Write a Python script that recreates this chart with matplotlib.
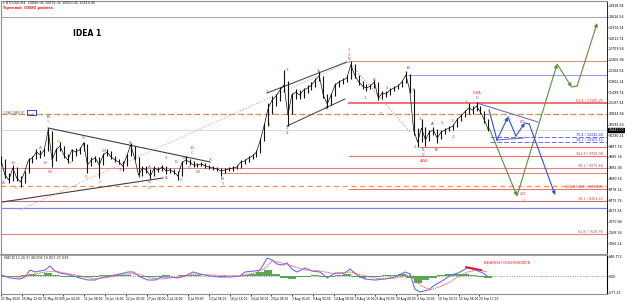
import matplotlib
matplotlib.use("Agg")
import matplotlib.pyplot as plt
from matplotlib.patches import Rectangle

# daily bars (days since 21 May 2020), BTCUSD H4 chart read by eye
days = list(range(125))
close = [9601, 9181, 9041, 9377, 9097, 8985, 9265, 9601, 9657, 9825,
         9741, 9881, 10441, 9601, 9881, 9993, 9741, 9601, 9881, 9825,
         9881, 10077, 9461, 9601, 9657, 9461, 9741, 9825, 9685, 9601,
         9545, 9433, 9713, 10021, 9657, 9181, 9377, 9321, 9153, 9377,
         9321, 9405, 9293, 9321, 9265, 9153, 9517, 9601, 9545, 9461,
         9461, 9489, 9433, 9405, 9377, 9349, 9293, 9321, 9349, 9377,
         9405, 9545, 9573, 9657, 9713, 9825, 10161, 10581, 11057, 11281,
         11393, 11561, 11701, 10861, 11421, 11505, 11421, 11561, 11617, 11701,
         11841, 11953, 11421, 11169, 11421, 11701, 11785, 11841, 11897, 12261,
         11981, 11785, 11673, 11617, 11673, 11785, 11337, 11477, 11449, 11561,
         11617, 11673, 11785, 11981, 11561, 10441, 10105, 10497, 10161, 10385,
         10441, 10217, 10385, 10441, 10497, 10553, 10721, 10833, 10945, 11057,
         11001, 11113, 10945, 10721, 10441]
high = [9700, 9620, 9250, 9450, 9400, 9150, 9300, 9650, 9720, 9900,
        9880, 9950, 10500, 10420, 9950, 10100, 10000, 9780, 9920, 9950,
        9960, 10100, 10050, 9680, 9720, 9680, 9800, 9900, 9850, 9720,
        9640, 9580, 9760, 10080, 10000, 9680, 9420, 9420, 9350, 9420,
        9400, 9460, 9420, 9380, 9350, 9300, 9560, 9700, 9640, 9560,
        9520, 9540, 9510, 9460, 9440, 9410, 9370, 9380, 9400, 9430,
        9460, 9600, 9640, 9700, 9780, 9880, 10220, 10650, 11200, 11400,
        11450, 11650, 12121, 11800, 11480, 11580, 11560, 11620, 11700, 11780,
        11900, 12093, 11950, 11450, 11480, 11760, 11850, 11900, 11980, 12373,
        12280, 11990, 11800, 11720, 11740, 11841, 11790, 11540, 11530, 11620,
        11680, 11740, 11850, 12093, 12000, 11580, 10500, 10749, 10520, 10450,
        10520, 10460, 10440, 10500, 10560, 10620, 10780, 10900, 11000, 11197,
        11100, 11225, 11120, 10960, 10740]
low = [9450, 9100, 8950, 9000, 9020, 8850, 8950, 9250, 9520, 9620,
       9650, 9700, 9850, 9400, 9580, 9850, 9650, 9520, 9580, 9720,
       9780, 9850, 9250, 9420, 9550, 9100, 9450, 9700, 9620, 9550,
       9480, 9280, 9420, 9700, 9600, 9120, 9150, 9250, 9060, 9140,
       9260, 9280, 9220, 9250, 9200, 9050, 9150, 9480, 9470, 9400,
       9400, 9420, 9380, 9340, 9320, 9290, 9150, 9240, 9280, 9300,
       9340, 9390, 9500, 9540, 9620, 9680, 9800, 10120, 10550, 10900,
       11100, 11250, 11500, 10550, 10900, 11300, 11300, 11350, 11480, 11550,
       11650, 11800, 11350, 11057, 11150, 11400, 11650, 11720, 11780, 11880,
       11900, 11700, 11580, 11520, 11580, 11620, 11281, 11300, 11360, 11420,
       11520, 11580, 11650, 11760, 11480, 10300, 9965, 10100, 9980, 10140,
       10300, 10077, 10200, 10340, 10400, 10440, 10520, 10700, 10800, 10900,
       10900, 10980, 10880, 10650, 10400]

# MACD pane
macd_day = [0, 2.3, 4.8, 6.1, 7.4, 8.7, 9.9, 11.2, 12.5, 13.7, 15.0, 16.3, 17.6,
            20.1, 22.1, 23.9, 25.2, 27.7, 30.3, 32.3, 33.6, 35.4, 37.4, 39.2,
            41.0, 43.0, 45.0, 46.8, 48.9, 50.6, 53.2, 55.7, 58.3, 60.8, 62.1,
            64.6, 65.9, 66.7, 67.7, 69.0, 70.2, 71.5, 72.8, 74.0, 75.3, 77.4,
            79.1, 81.2, 83.0, 85.0, 87.5, 88.8, 90.6, 92.6, 95.2, 97.7, 100.3,
            102.8, 104.1, 105.3, 106.6, 108.7, 110.4, 112.2, 114.2, 116.8,
            118.6, 119.8, 121.4, 122.6, 123.7]
macd = [34, -68, -102, -34, 204, 136, 170, 204, 340, 170, 102, 68, 34,
        -68, -136, -136, -68, 0, 68, 136, 136, -34, -136, -136,
        -34, -34, -68, 0, 136, 68, 0, -34, -34, 0, 136,
        170, 204, 374, 612, 544, 408, 374, 442, 238, 136, 272,
        170, 136, -68, 102, 102, 238, 34, -102, -136, -102, -34,
        136, 68, -442, -544, -476, -306, -170, 0, 136,
        272, 238, 170, 102, 0]
sig_day = [0, 4.8, 7.4, 11.2, 13.7, 16.3, 20.1, 23.9, 27.7, 31.5, 34.9, 37.9,
           41.0, 45.0, 49.4, 53.2, 60.8, 64.6, 67.2, 69.0, 71.5, 74.0, 77.4,
           81.2, 85.0, 88.8, 92.6, 96.4, 100.3, 104.1, 106.6, 109.2, 112.2,
           115.5, 118.6, 121.4, 123.7]
signal = [0, -34, 34, 136, 170, 102, 0, -102, -34, 68, 68, -68,
          -102, -34, 68, 34, 0, 102, 272, 510, 442, 340, 204,
          170, 68, 136, 0, -102, -68, 34, -306, -476, -340,
          -102, 136, 204, 136]
hist_day = list(range(0, 125, 2))
hist = [-20, -40, -30, 20, 60, 40, 90, 30, -20, -30, -50, -40, -20, 20, 30, 40,
        50, 10, -40, -50, -20, 20, -10, 30, 50, 20, 0, -10, -20, 10, 10, 40,
        60, 150, 200, 60, -60, -100, -40, -20, 20, -50, -30, 20, 60, -40, -60,
        -40, -40, 20, 30, 60, -80, -240, -150, -60, 30, 60, 70, 60, 30, -20, -60]

# horizontal levels: (price, start day, colour, width, style)
levels = [
    (13605, 0, "#a8a8a8", 0.8, "-"),
    (12373, 88.5, "#e59090", 0.8, "-"),
    (11981, 103.6, "#9a9af0", 0.8, "-"),
    (11197, 88.5, "#f07070", 1.4, "-"),
    (10441, 0, "#d2d2d2", 0.6, "-"),
    (10245, 124.5, "#6b6bff", 0.7, (0, (5, 2))),
    (10105, 124.5, "#6b6bff", 0.7, (0, (5, 2))),
    (9965, 106.6, "#f07070", 0.8, "-"),
    (9713, 88.5, "#f07070", 0.8, "-"),
    (9377, 0, "#e08585", 0.8, "-"),
    (9237, 56.2, "#e08585", 0.8, "-"),
    (8789, 88.5, "#f07070", 0.8, "-"),
    (8453, 0, "#c87070", 0.8, "-"),
    (8257, 0, "#8080f0", 0.9, "-"),
    (7529, 0, "#e08585", 0.8, "-"),
]
fib_text = [(11197, "61.8 / 11197.25", "#e03030"),
            (10245, "76.4 / 10245.40", "#3030e0"),
            (10105, "38.2 / 10105.12", "#3030e0"),
            (9713, "161.8 / 9713.08", "#e03030"),
            (9377, "38.2 / 9377.46", "#b05050"),
            (8789, "161.8 (23.6) / 8789.30", "#e03030"),
            (8453, "38.2 / 8453.24", "#b05050"),
            (7529, "61.8 / 7529.35", "#b05050")]

# trend lines: (day0, price0, day1, price1, colour, style)
trends = [
    (12.0, 10497, 53.2, 9545, "#404040", "-"),
    (0, 8420, 41.2, 9097, "#404040", "-"),
    (4.8, 8201, 88.5, 12345, "#e0a0a0", ":"),
    (67.7, 11477, 88.0, 12345, "#505050", "-"),
    (72.8, 10553, 87.5, 11309, "#505050", "-"),
    (88.5, 12345, 104.1, 10385, "#e08080", ":"),
    (121.1, 11197, 136.6, 10665, "#7070c0", "-"),
    (126.2, 10161, 133.0, 10217, "#7070c0", "-"),
]

# projected paths (day, price)
green_path = [(124.2, 10497), (131.3, 8593), (141.5, 12289), (145.2, 11645),
              (146.6, 11673), (151.7, 13437)]
green_arrows = [0, 1, 2, 4]
blue_path = [(124.2, 11001), (126.2, 10161), (129.0, 10805), (131.0, 10273),
             (133.3, 10637), (134.4, 10609), (141.0, 8621)]
blue_arrows = [1, 3, 5]

# wave labels
lbl = [
    (0.5, 8957, "A", "m"), (3.05, 9517, "B", "m"), (3.8, 8817, "C", "g"),
    (12.0, 10805, "B", "b"), (12.0, 10665, "5", "o"), (12.5, 9265, "W", "m"),
    (9.9, 9937, "A", "m"), (11.2, 9517, "B", "m"), (14.8, 10105, "W", "o"),
    (17.6, 9517, "B", "o"), (20.9, 10217, "X", "m"), (21.6, 9125, "B", "o"),
    (25.2, 8985, "C", "m"), (26.2, 9853, "W", "m"), (30.3, 9321, "X", "m"),
    (32.8, 10077, "B", "g"), (34.9, 9125, "Y", "o"), (37.7, 9405, "A", "m"),
    (37.7, 8985, "B", "m"), (37.7, 8817, "C", "b"), (41.7, 9657, "Y", "g"),
    (42.0, 9097, "A", "m"), (44.5, 9545, "B", "m"), (45.8, 9041, "C", "g"),
    (46.6, 9657, "A", "m"), (48.6, 9937, "D", "b"), (48.6, 9797, "C", "m"),
    (47.8, 9377, "E", "m"), (50.1, 9265, "W", "g"), (53.2, 9601, "X", "g"),
    (56.2, 9069, "B", "b"), (56.2, 8929, "Y", "r"), (68.2, 10581, "4", "g"),
    (72.8, 10497, "2", "g"), (72.8, 10357, "2", "b"), (82.7, 11057, "4", "b"),
    (67.7, 11505, "1", "b"), (72.8, 12121, "3", "g"), (80.7, 12093, "3", "b"),
    (88.5, 12681, "1", "r"), (88.5, 12541, "5", "r"), (88.5, 12429, "5", "b"),
    (92.6, 11337, "1", "g"), (94.9, 11841, "B", "g"), (96.7, 10889, "C", "g"),
    (98.2, 11617, "4", "g"), (103.6, 12177, "B", "b"), (104.8, 11561, "2", "g"),
    (105.3, 9965, "3", "g"), (106.6, 10749, "3", "g"), (107.4, 9881, "5", "b"),
    (107.4, 9741, "C", "b"), (107.6, 9580, "A/W", "r"), (109.7, 10609, "A", "b"),
    (110.7, 9881, "B", "b"), (112.2, 10637, "1", "g"), (114.8, 10693, "1", "m"),
    (115.0, 10245, "2", "m"), (118.3, 11225, "3", "g"), (121.1, 11477, "DXA", "r"),
    (121.1, 11337, "C", "b"), (132.8, 10665, "BX", "r"), (132.8, 8649, "Z/Y", "r"),
    (133.1, 8453, "?", "r"),
]
lbl_colors = {"m": "#cc33cc", "g": "#2f8f2f", "b": "#3333ff", "o": "#ff8a20",
              "r": "#ff3333"}

price_ticks = [13918.94, 13616.54, 13314.14, 13011.74, 12709.34, 12406.94,
               12104.54, 11802.14, 11499.74, 11197.34, 10894.94, 10592.54,
               10290.14, 9987.74, 9685.34, 9382.94, 9080.54, 8778.14, 8475.74,
               8173.34, 7870.94, 7568.54, 7266.14]
time_labels = ["21 May 2020", "26 May 12:00", "31 May 20:00", "6 Jun 04:00",
               "11 Jun 08:00", "16 Jun 16:00", "22 Jun 00:00", "27 Jun 08:00",
               "2 Jul 16:00", "8 Jul 00:00", "13 Jul 08:00", "18 Jul 16:00",
               "24 Jul 00:00", "29 Jul 08:00", "3 Aug 16:00", "9 Aug 00:00",
               "14 Aug 08:00", "19 Aug 16:00", "25 Aug 00:00", "30 Aug 08:00",
               "4 Sep 16:00", "10 Sep 00:00", "15 Sep 08:00", "20 Sep 17:00"]

W, H = 625, 301
fig = plt.figure(figsize=(W / 100, H / 100), dpi=100)
fig.patch.set_facecolor("white")
ax = fig.add_axes([1 / W, 1 - 254 / H, 606 / W, 253 / H])
axm = fig.add_axes([1 / W, 1 - 294 / H, 606 / W, 39 / H])
x_max = 154.2

# price pane
for p, d0, c, lw, ls in levels:
    ax.plot([d0, x_max], [p, p], color=c, lw=lw, ls=ls, zorder=1)
# dash-dot two colour levels
for p in [10903, 8873]:
    ax.plot([0, x_max], [p, p], color="#ff8c50", lw=0.9, ls=(0, (4, 3)), zorder=1)
ax.plot([0, x_max], [10903, 10903], color="#60a860", lw=0.9, ls=(3.5, (1.5, 5.5)), zorder=1)

for d0, p0, d1, p1, c, ls in trends:
    ax.plot([d0, d1], [p0, p1], color=c, lw=0.8, ls=ls, zorder=2)

ax.vlines(days, low, high, color="#111111", lw=0.8, zorder=3)
ax.plot(days, close, color="#111111", lw=0.5, zorder=3)


def draw_path(path, arrows, col):
    for i in range(len(path) - 1):
        (d0, p0), (d1, p1) = path[i], path[i + 1]
        if i in arrows:
            ax.annotate("", xy=(d1, p1), xytext=(d0, p0),
                        arrowprops=dict(arrowstyle="-|>", color=col, lw=0.8,
                                        mutation_scale=5, shrinkA=0, shrinkB=0),
                        zorder=4)
        else:
            ax.plot([d0, d1], [p0, p1], color=col, lw=0.8, zorder=4)


draw_path(green_path, green_arrows, "#5c8f3c")
draw_path(blue_path, blue_arrows, "#2f4fe0")

for d, p, t, c in lbl:
    ax.text(d, p, t, color=lbl_colors[c], fontsize=3, ha="center", va="center",
            zorder=5, clip_on=True)

for p, t, c in fib_text:
    ax.text(x_max - 1, p, t, color=c, fontsize=2.4, ha="right", va="bottom", zorder=5)

ax.set_xlim(0, x_max)
ax.set_ylim(6969, 14053)
ax.set_xticks([])
ax.yaxis.tick_right()
ax.set_yticks(price_ticks)
ax.set_yticklabels(["%.2f" % v for v in price_ticks])
ax.tick_params(axis="y", labelsize=2.3, length=1, width=0.5, pad=0.5)
for s in ["left", "top", "bottom"]:
    ax.spines[s].set_color("#909090")
ax.spines["right"].set_color("black")
ax.spines["right"].set_linewidth(0.6)
ax.text(1.002, 10441, "%.2f" % close[-1], transform=ax.get_yaxis_transform(),
        fontsize=2.3, color="white", va="center", ha="left",
        bbox=dict(boxstyle="square,pad=0.1", fc="black", ec="black"))

# MACD pane
axm.bar(hist_day, hist, width=2.0, color="#3a9a3a", alpha=0.85, zorder=2)
axm.axhline(0, color="#909090", lw=0.7, ls=(0, (1, 1.5)), zorder=1)
axm.plot(macd_day, macd, color="#6a6aff", lw=0.8, zorder=3)
axm.plot(sig_day, signal, color="#ff5050", lw=0.7, ls=(0, (1.5, 1)), zorder=3)
axm.plot([118.3, 122.2], [306, 204], color="#ff0000", lw=1.2, zorder=4)
axm.text(123.0, 430, "BEARISH DIVERGENCE", color="#ff2020", fontsize=3,
         ha="left", va="center")
axm.text(0.8, 610, "MACD(12,26,9) 48.006 16.801 47.039", fontsize=2.4,
         color="#333333", ha="left", va="center")
axm.set_xlim(0, x_max)
axm.set_ylim(-612, 714)
axm.yaxis.tick_right()
axm.set_yticks([646.772, 0, -577.13])
axm.set_yticklabels(["646.772", "0.00", "-577.13"])
axm.tick_params(axis="y", labelsize=2.3, length=1, width=0.5, pad=0.5)
axm.set_xticks([i * 5.293 for i in range(len(time_labels))])
axm.set_xticklabels(time_labels, ha="left")
axm.tick_params(axis="x", labelsize=2.1, length=1.5, width=0.5, pad=0.8)
for s in ["left", "top", "bottom"]:
    axm.spines[s].set_color("#909090")
axm.spines["top"].set_linewidth(1.2)

# header texts
fig.text(3 / W, 1 - 3.5 / H, "\u25be BTCUSD,H4  10840.06 10876.35 10800.45 10849.06",
         fontsize=2.4, color="#222222", va="center")
fig.text(3 / W, 1 - 8 / H, "Spread: 5800 points", fontsize=3.2, color="#ff2020",
         weight="bold", va="center")
fig.text(73 / W, 1 - 33 / H, "IDEA 1", fontsize=5.5, weight="bold", va="center")
fig.text(3 / W, 1 - 112.5 / H, "2.FACUBB 8*", fontsize=2.4, color="#555555", va="center")
fig.patches.append(Rectangle((27 / W, 1 - 115 / H), 9 / W, 4.5 / H,
                             transform=fig.transFigure, fill=False,
                             ec="#2020c0", lw=0.6))

fig.savefig("out.png", dpi=100)
